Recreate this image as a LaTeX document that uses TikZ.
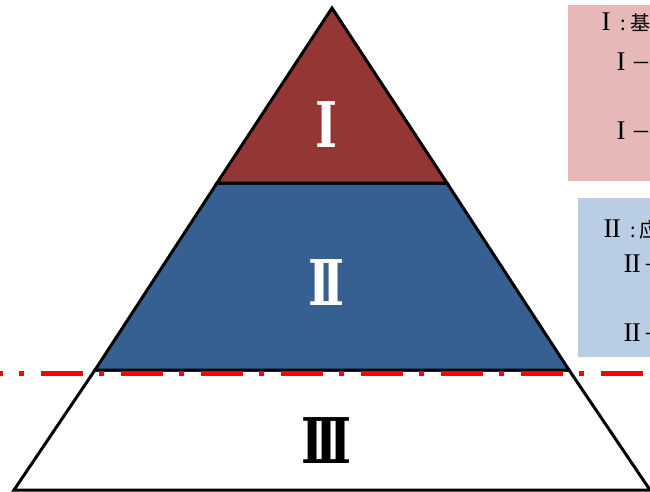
\documentclass[tikz,border=0pt]{standalone}
\usepackage{fontspec}
\newfontfamily\cjk{Noto Sans CJK SC}
\newfontfamily\rmnum{Liberation Serif}
\newfontfamily\bignumfont{DejaVu Serif Bold}
\definecolor{lvone}{HTML}{943634}
\definecolor{lvtwo}{HTML}{366092}
\definecolor{pinkbg}{HTML}{E6B9B8}
\definecolor{bluebg}{HTML}{B9CDE5}
\newcommand{\SI}{{\rmnum\fontsize{27}{27}\selectfont I}}
\newcommand{\SII}{{\rmnum\fontsize{27}{27}\selectfont I\kern-0.9pt I}}
\newcommand{\BI}{I}
\newcommand{\BII}{I\kern-11pt I}
\newcommand{\BIII}{I\kern-11pt I\kern-11pt I}
\tikzset{
  level/.style={draw=black,line width=3pt,line join=miter},
  bignum/.style={font=\bignumfont\fontsize{63}{63}\selectfont,inner sep=0pt,anchor=base,xscale=0.75},
  boxtext/.style={font=\cjk\fontsize{20}{20}\selectfont,inner sep=0pt,anchor=base west},
  cutline/.style={red,line width=5pt,dash pattern=on 42pt off 16pt on 5pt off 17pt,dash phase=39pt}
}
\begin{document}
\begin{tikzpicture}[x=1pt,y=-1pt]
\useasboundingbox (0,0) rectangle (650,491);
\clip (0,0) rectangle (650,491);
% boxes
\fill[pinkbg] (568,5) rectangle (700,181);
\fill[bluebg] (578,198) rectangle (700,357);
% pyramid levels
\coordinate (apex) at (332,8);
\coordinate (l1) at (217,183);
\coordinate (r1) at (447,183);
\coordinate (l2) at (95,370);
\coordinate (r2) at (569,370);
\coordinate (l3) at (14,490);
\coordinate (r3) at (650,490);
\draw[level,fill=white] (l2) -- (r2) -- (r3) -- (l3) -- cycle;
\draw[level,fill=lvtwo] (l1) -- (r1) -- (r2) -- (l2) -- cycle;
\draw[level,fill=lvone] (apex) -- (r1) -- (l1) -- cycle;
\node[bignum,white] (n1) at (326.5,147) {\BI};
\node[bignum,white] (n2) at (326.5,305) {\BII};
\node[bignum,black] (n3) at (326.5,463) {\BIII};
% red cut line
\coordinate (cutL) at (0,373.5);
\coordinate (cutR) at (700,373.5);
\draw[cutline] (cutL) -- (cutR);
% box texts
\node[boxtext] (t1) at (601.5,30) {\makebox[14pt][l]{\SI}\makebox[15pt][c]{:}基础};
\node[boxtext] (t2) at (616.5,70) {\makebox[15pt][l]{\SI}－1};
\node[boxtext] (t3) at (616.5,139) {\makebox[15pt][l]{\SI}－2};
\node[boxtext] (t4) at (603.5,237) {\makebox[24pt][l]{\SII}\makebox[12pt][c]{:}应用};
\node[boxtext] (t5) at (623.5,272) {\makebox[20pt][l]{\SII}－1};
\node[boxtext] (t6) at (623.5,341) {\makebox[20pt][l]{\SII}－2};
\end{tikzpicture}
\end{document}
